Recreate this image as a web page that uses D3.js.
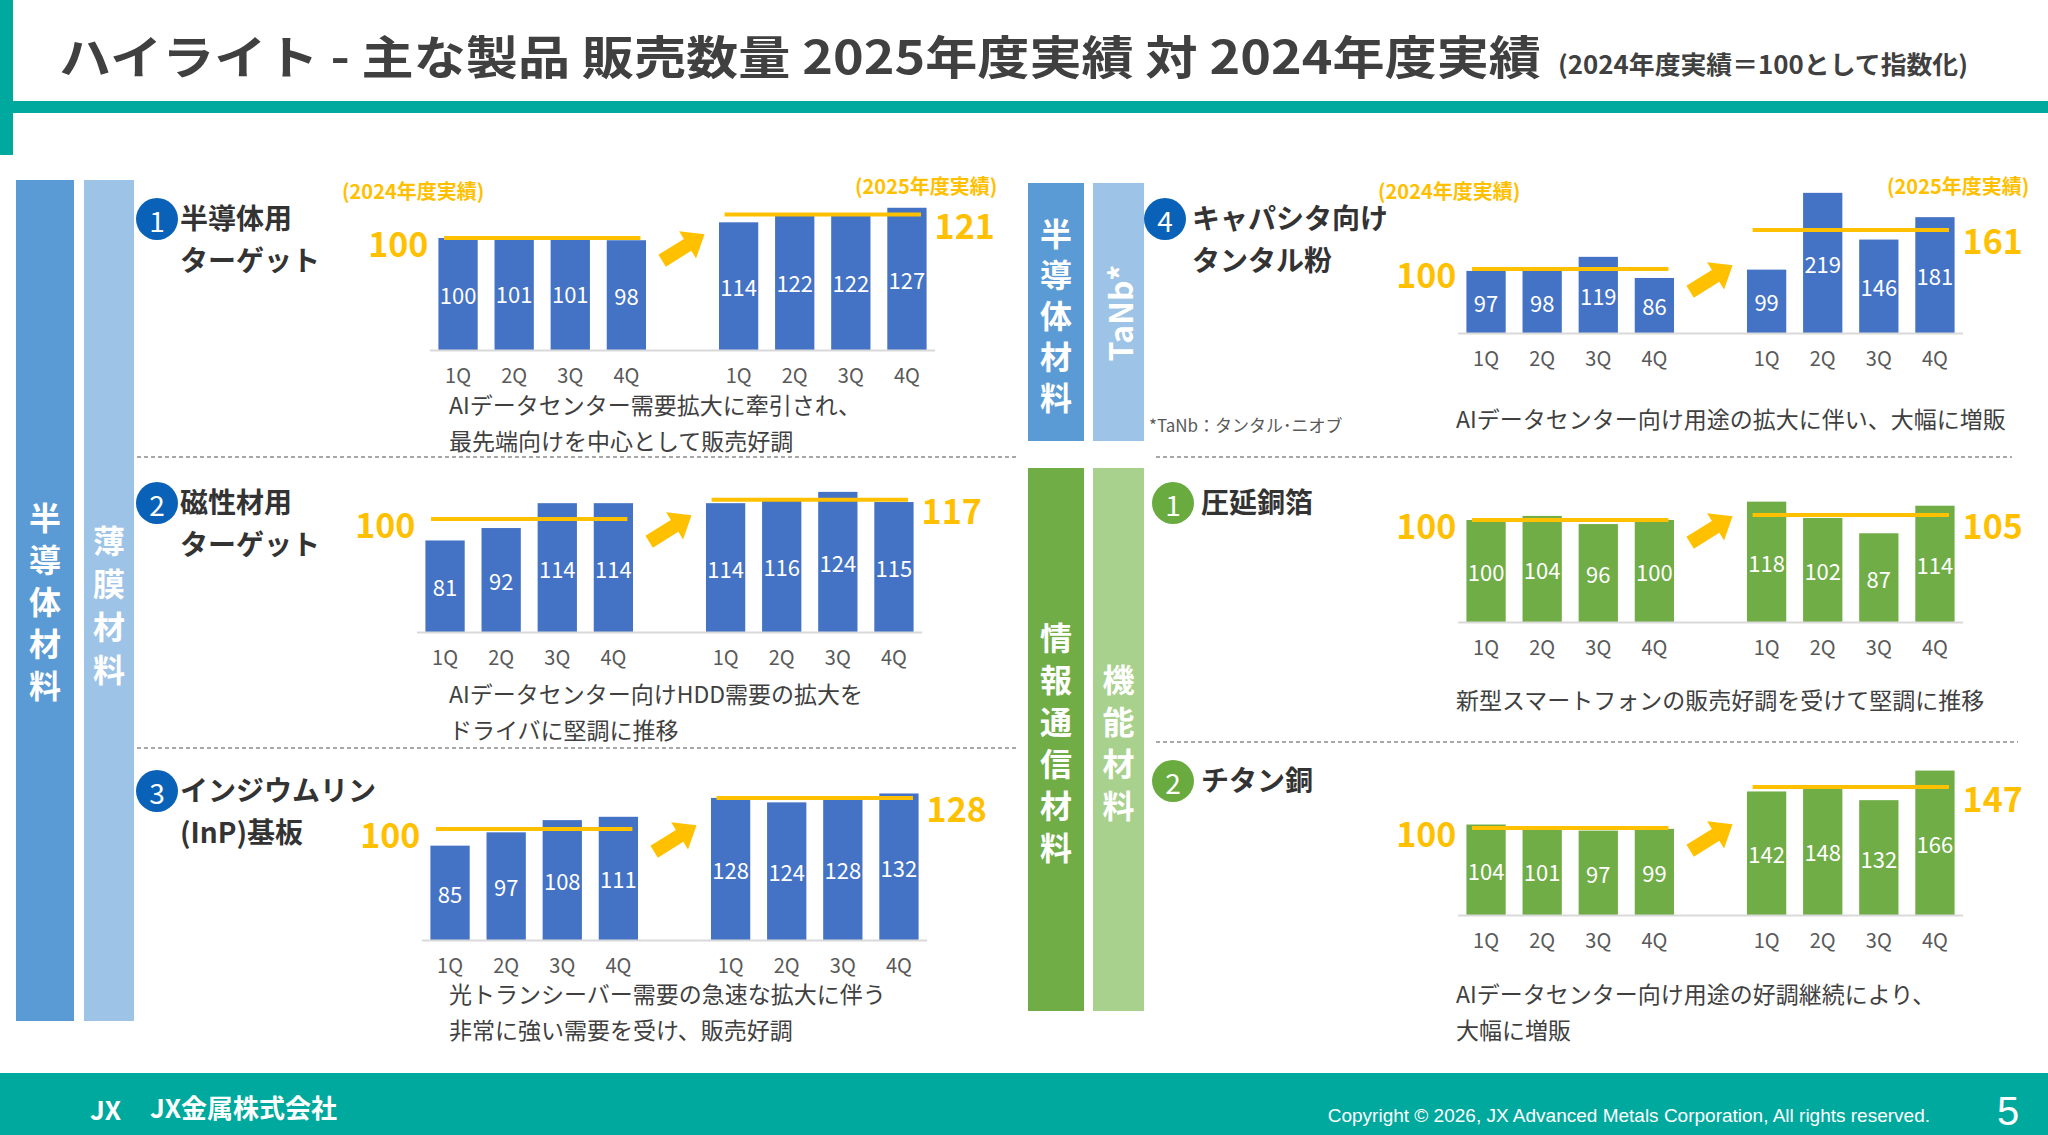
<!DOCTYPE html>
<html><head><meta charset="utf-8">
<script src="https://cdn.jsdelivr.net/npm/d3@7"></script>
<style>
body{margin:0;background:#fff;}
svg{display:block;font-family:"Noto Sans CJK JP","Noto Sans",sans-serif;}
</style></head>
<body><div id="viz"></div>
<script>
var W = 2048, H = 1135;

// data
var quarters = ["1Q", "2Q", "3Q", "4Q"];
var fy24Target = [100, 101, 101, 98], fy25Target = [114, 122, 122, 127];
var fy24Magnetic = [81, 92, 114, 114], fy25Magnetic = [114, 116, 124, 115];
var fy24InP = [85, 97, 108, 111], fy25InP = [128, 124, 128, 132];
var fy24TaNb = [97, 98, 119, 86], fy25TaNb = [99, 219, 146, 181];
var fy24Foil = [100, 104, 96, 100], fy25Foil = [118, 102, 87, 114];
var fy24TiCu = [104, 101, 97, 99], fy25TiCu = [142, 148, 132, 166];
var fy25Index = [121, 117, 128, 161, 105, 147];

var BLUE = "#4472C4", GREEN = "#70AD47", ORANGE = "#FFC000", TEAL = "#00A99D", TXT = "#404040";

var svg = d3.select("#viz").append("svg").attr("width", W).attr("height", H);

// header
svg.append("rect").attr("x", 0).attr("y", 0).attr("width", 13).attr("height", 155).attr("fill", TEAL);
svg.append("rect").attr("x", 0).attr("y", 101).attr("width", W).attr("height", 12).attr("fill", TEAL);
svg.append("text").attr("x", 59).attr("y", 74).attr("font-size", 46).attr("font-weight", "bold").attr("fill", TXT)
  .attr("textLength", 1482).attr("lengthAdjust", "spacingAndGlyphs")
  .text("ハイライト - 主な製品 販売数量 2025年度実績 対 2024年度実績");
svg.append("text").attr("x", 1558).attr("y", 74).attr("font-size", 25).attr("font-weight", "bold").attr("fill", TXT)
  .attr("textLength", 410).attr("lengthAdjust", "spacingAndGlyphs")
  .text("(2024年度実績＝100として指数化)");

// footer
svg.append("rect").attr("x", 0).attr("y", 1073).attr("width", W).attr("height", H - 1073).attr("fill", TEAL);
svg.append("text").attr("x", 90).attr("y", 1120).attr("font-size", 26).attr("font-weight", "bold").attr("fill", "#fff").text("JX");
svg.append("text").attr("x", 150).attr("y", 1118).attr("font-size", 26).attr("font-weight", "bold").attr("fill", "#fff").text("JX金属株式会社");
svg.append("text").attr("x", 1930).attr("y", 1122).attr("text-anchor", "end").attr("font-size", 19).attr("fill", "#fff")
  .attr("font-family", "Liberation Sans, Arial").text("Copyright © 2026, JX Advanced Metals Corporation, All rights reserved.");
svg.append("text").attr("x", 2008).attr("y", 1125).attr("text-anchor", "middle").attr("font-size", 40).attr("fill", "#fff")
  .attr("font-family", "Liberation Sans, Arial").text("5");

// vertical category bands
function band(x, w, y, h, fill, label, cy, step, size) {
  svg.append("rect").attr("x", x).attr("y", y).attr("width", w).attr("height", h).attr("fill", fill);
  var chars = label.split("");
  chars.forEach(function(c, i) {
    svg.append("text").attr("x", x + w / 2).attr("y", cy + (i - (chars.length - 1) / 2) * step)
      .attr("text-anchor", "middle").attr("dominant-baseline", "central")
      .attr("font-size", size).attr("font-weight", "bold").attr("fill", "#fff").text(c);
  });
}
band(16, 58, 180, 841, "#5B9BD5", "半導体材料", 600, 42, 32);
band(84, 50, 180, 841, "#9DC3E6", "薄膜材料", 603, 43, 32);
band(1028, 56, 183, 258, "#5B9BD5", "半導体材料", 314, 41, 32);
svg.append("rect").attr("x", 1093).attr("y", 183).attr("width", 51).attr("height", 258).attr("fill", "#9DC3E6");
svg.append("text").attr("transform", "translate(1119,313) rotate(-90)").attr("text-anchor", "middle")
  .attr("dominant-baseline", "central").attr("font-size", 32).attr("font-weight", "bold").attr("fill", "#fff").text("TaNb*");
band(1028, 56, 468, 543, "#70AD47", "情報通信材料", 741, 42, 32);
band(1093, 51, 468, 543, "#A9D18E", "機能材料", 741, 42, 32);
svg.append("text").attr("x", 1149).attr("y", 432).attr("font-size", 17).attr("fill", "#595959").text("*TaNb：タンタル･ニオブ");

// dashed separators
[[137, 1016, 457], [1156, 2012, 457], [137, 1016, 748], [1156, 2018, 742]].forEach(function(d) {
  svg.append("line").attr("x1", d[0]).attr("x2", d[1]).attr("y1", d[2]).attr("y2", d[2])
    .attr("stroke", "#8c8c8c").attr("stroke-width", 1.5).attr("stroke-dasharray", "4,3");
});

// section headers
function header(cx, cy, color, num, lines, tx) {
  svg.append("circle").attr("cx", cx).attr("cy", cy).attr("r", 21).attr("fill", color);
  svg.append("text").attr("x", cx).attr("y", cy + 1).attr("text-anchor", "middle").attr("dominant-baseline", "central")
    .attr("font-size", 28).attr("fill", "#fff").text(num);
  lines.forEach(function(l, i) {
    svg.append("text").attr("x", tx).attr("y", cy + 10 + i * 42).attr("font-size", 28).attr("font-weight", "bold")
      .attr("fill", "#333").text(l);
  });
}
header(157, 219, "#0A62B8", "1", ["半導体用", "ターゲット"], 180);
header(157, 503, "#0A62B8", "2", ["磁性材用", "ターゲット"], 180);
header(157, 791, "#0A62B8", "3", ["インジウムリン", "(InP)基板"], 180);
header(1165, 219, "#0A62B8", "4", ["キャパシタ向け", "タンタル粉"], 1192);
header(1173, 503, "#6AAB3F", "1", ["圧延銅箔"], 1201);
header(1173, 781, "#6AAB3F", "2", ["チタン銅"], 1201);

// descriptions
function desc(x, y, lines) {
  lines.forEach(function(l, i) {
    svg.append("text").attr("x", x).attr("y", y + i * 36).attr("font-size", 23).attr("fill", TXT).text(l);
  });
}
desc(449, 414, ["AIデータセンター需要拡大に牽引され、", "最先端向けを中心として販売好調"]);
desc(449, 703, ["AIデータセンター向けHDD需要の拡大を", "ドライバに堅調に推移"]);
desc(449, 1003, ["光トランシーバー需要の急速な拡大に伴う", "非常に強い需要を受け、販売好調"]);
desc(1456, 428, ["AIデータセンター向け用途の拡大に伴い、大幅に増販"]);
desc(1456, 709, ["新型スマートフォンの販売好調を受けて堅調に推移"]);
desc(1456, 1003, ["AIデータセンター向け用途の好調継続により、", "大幅に増販"]);

// panel chart
function panel(o) {
  var keys = quarters.map(function(q) { return "a" + q; }).concat(["gap"], quarters.map(function(q) { return "b" + q; }));
  var rows = o.prev.map(function(v, i) { return {k: "a" + quarters[i], q: quarters[i], v: v}; })
    .concat(o.curr.map(function(v, i) { return {k: "b" + quarters[i], q: quarters[i], v: v}; }));
  var x = d3.scaleBand().domain(keys).range([o.x0, o.x0 + o.w]).paddingInner(0.3).paddingOuter(0.15);
  var y = d3.scaleLinear().domain([0, 100]).range([o.base, o.base - o.unit * 100]);
  var g = svg.append("g");
  g.selectAll(".bar").data(rows).enter().append("rect")
    .attr("x", function(d) { return x(d.k); }).attr("width", x.bandwidth())
    .attr("y", function(d) { return y(d.v); }).attr("height", function(d) { return o.base - y(d.v); })
    .attr("fill", o.color);
  g.append("line").attr("x1", o.x0).attr("x2", o.x0 + o.w).attr("y1", o.base + 0.5).attr("y2", o.base + 0.5)
    .attr("stroke", "#d9d9d9").attr("stroke-width", 2);
  g.selectAll(".val").data(rows).enter().append("text")
    .attr("x", function(d) { return x(d.k) + x.bandwidth() / 2; })
    .attr("y", function(d) { return (y(d.v) + o.base) / 2; })
    .attr("text-anchor", "middle").attr("dominant-baseline", "central")
    .attr("font-size", 22).attr("fill", "#fff").text(function(d) { return d.v; });
  g.selectAll(".q").data(rows).enter().append("text")
    .attr("x", function(d) { return x(d.k) + x.bandwidth() / 2; }).attr("y", o.base + 33)
    .attr("text-anchor", "middle").attr("font-size", 20).attr("fill", "#595959").text(function(d) { return d.q; });
  // average lines
  var pad = x.step() * 0.1;
  [[keys[0], keys[3], 100], [keys[5], keys[8], o.idx]].forEach(function(s) {
    g.append("line").attr("x1", x(s[0]) + pad).attr("x2", x(s[1]) + x.bandwidth() - pad)
      .attr("y1", y(s[2])).attr("y2", y(s[2])).attr("stroke", ORANGE).attr("stroke-width", 4);
  });
  g.append("text").attr("x", x(keys[0]) - 10).attr("y", y(100) + 4).attr("text-anchor", "end")
    .attr("dominant-baseline", "central").attr("font-size", 34).attr("font-weight", "bold").attr("fill", ORANGE).text("100");
  g.append("text").attr("x", x(keys[8]) + x.bandwidth() + 8).attr("y", y(o.idx) + 10)
    .attr("dominant-baseline", "central").attr("font-size", 34).attr("font-weight", "bold").attr("fill", ORANGE).text(o.idx);
  // arrow
  var ax = x("gap") + x.bandwidth() / 2, ay = y(100) + 10;
  g.append("path").attr("transform", "translate(" + ax + "," + ay + ") rotate(-32)")
    .attr("d", "M-24,-7 L6,-7 L6,-16 L26,0 L6,16 L6,7 L-24,7 Z").attr("fill", ORANGE);
  if (o.tags) {
    g.append("text").attr("x", o.tags[0]).attr("y", 199).attr("font-size", 20)
      .attr("font-weight", "bold").attr("fill", ORANGE).text("(2024年度実績)");
    g.append("text").attr("x", o.tags[1]).attr("y", 194)
      .attr("font-size", 20).attr("font-weight", "bold").attr("fill", ORANGE).text("(2025年度実績)");
  }
}
panel({prev: fy24Target, curr: fy25Target, idx: fy25Index[0], x0: 430, w: 505, base: 350, unit: 1.12, color: BLUE, tags: [342, 855]});
panel({prev: fy24Magnetic, curr: fy25Magnetic, idx: fy25Index[1], x0: 417, w: 505, base: 632, unit: 1.13, color: BLUE});
panel({prev: fy24InP, curr: fy25InP, idx: fy25Index[2], x0: 422, w: 505, base: 940, unit: 1.11, color: BLUE});
panel({prev: fy24TaNb, curr: fy25TaNb, idx: fy25Index[3], x0: 1458, w: 505, base: 333, unit: 0.64, color: BLUE, tags: [1378, 1887]});
panel({prev: fy24Foil, curr: fy25Foil, idx: fy25Index[4], x0: 1458, w: 505, base: 622, unit: 1.02, color: GREEN});
panel({prev: fy24TiCu, curr: fy25TiCu, idx: fy25Index[5], x0: 1458, w: 505, base: 915, unit: 0.87, color: GREEN});
</script></body></html>
